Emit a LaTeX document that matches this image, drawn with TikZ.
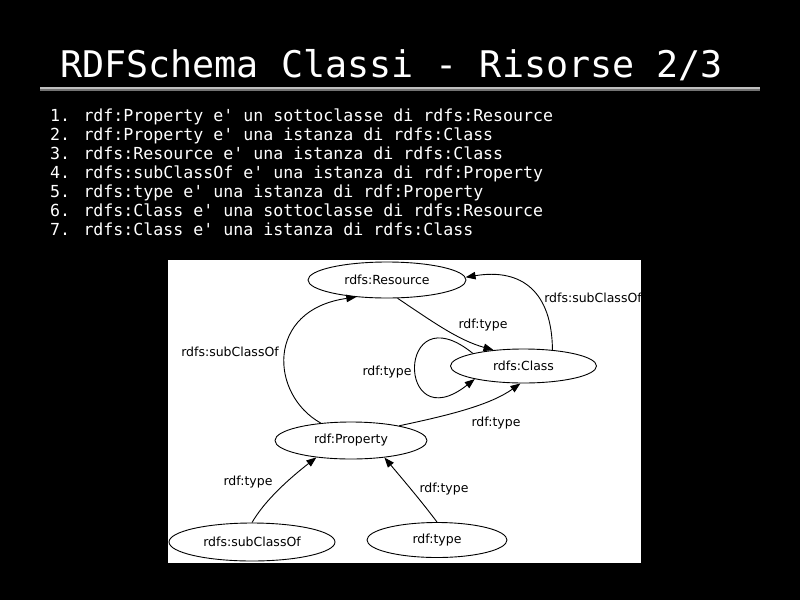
\documentclass[tikz,border=0pt]{standalone}
\usepackage{fontspec}
\setmainfont{DejaVu Sans}
\newfontfamily\monofont{DejaVu Sans Mono}
\usetikzlibrary{shapes.geometric,arrows.meta}
\begin{document}
\begin{tikzpicture}[x=1pt,y=-1pt,
  titletext/.style={anchor=base west,inner sep=0pt,text=white,font=\monofont\fontsize{36.7}{40}\selectfont},
  listtext/.style={anchor=base west,inner sep=0pt,text=white,font=\monofont\fontsize{16.6}{19}\selectfont},
  ell/.style={ellipse,draw=black,line width=0.9pt,inner sep=0pt,font=\fontsize{12.5}{14}\selectfont},
  edge/.style={draw=black,line width=0.9pt,-{Triangle[length=10pt,width=7.5pt]}},
  elabel/.style={inner sep=0pt,font=\fontsize{12.5}{14}\selectfont}
]
\useasboundingbox (0,0) rectangle (800,600);
\fill[black] (0,0) rectangle (800,600);
% title
\node[titletext] (title) at (60,77) {RDFSchema Classi - Risorse 2/3};
\fill[gray!50!white] (40,86.7) rectangle (760,89);
\fill[gray!90!black] (40,89) rectangle (760,91);
% list
\node[listtext] (l1) at (50,121) {1. rdf:Property e' un sottoclasse di rdfs:Resource};
\node[listtext] (l2) at (50,140) {2. rdf:Property e' una istanza di rdfs:Class};
\node[listtext] (l3) at (50,159) {3. rdfs:Resource e' una istanza di rdfs:Class};
\node[listtext] (l4) at (50,178) {4. rdfs:subClassOf e' una istanza di rdf:Property};
\node[listtext] (l5) at (50,197) {5. rdfs:type e' una istanza di rdf:Property};
\node[listtext] (l6) at (50,216) {6. rdfs:Class e' una sottoclasse di rdfs:Resource};
\node[listtext] (l7) at (50,235) {7. rdfs:Class e' una istanza di rdfs:Class};
% diagram panel
\fill[white] (168,260) rectangle (641,563);
\begin{scope}
\clip (168,260) rectangle (641,563);
\node[ell,minimum width=158pt,minimum height=36pt] (res) at (387,280) {rdfs:Resource};
\node[ell,minimum width=146pt,minimum height=34pt] (cls) at (523.5,366) {rdfs:Class};
\node[ell,minimum width=152pt,minimum height=37pt] (prop) at (351,440.5) {rdf:Property};
\node[ell,minimum width=166pt,minimum height=38pt] (sco) at (252,542) {rdfs:subClassOf};
\node[ell,minimum width=140pt,minimum height=35pt] (typ) at (437,540) {rdf:type};
% edges
\draw[edge] (prop.150) .. controls (270,395) and (265,310) .. (res.209);
\draw[edge] (res.-60) .. controls (433,322) and (458,340) .. (cls.152);
\draw[edge] (cls.29) .. controls (552,292) and (522,268) .. (res.2);
\draw[edge] (cls.166) .. controls (396,291) and (396,441) .. (cls.195);
\draw[edge] (prop.17) .. controls (450,415) and (490,405) .. (cls.260);
\draw[edge] (sco.90) .. controls (265,500) and (290,478) .. (prop.206);
\draw[edge] (typ.90) .. controls (422,502) and (405,482) .. (prop.333);
% labels
\node[elabel] (lb1) at (230,352) {rdfs:subClassOf};
\node[elabel] (lb2) at (483,325) {rdf:type};
\node[elabel] (lb3) at (593,298) {rdfs:subClassOf};
\node[elabel] (lb4) at (387,372) {rdf:type};
\node[elabel] (lb5) at (496,423) {rdf:type};
\node[elabel] (lb6) at (248,482) {rdf:type};
\node[elabel] (lb7) at (444,489) {rdf:type};
\end{scope}
\end{tikzpicture}
\end{document}
